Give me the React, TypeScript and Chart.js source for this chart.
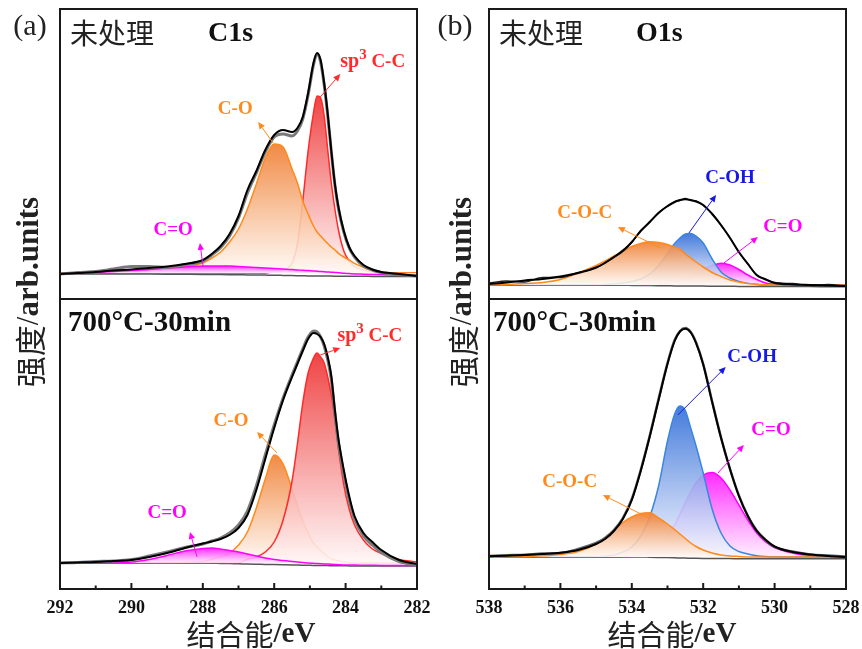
import React, { useEffect, useRef } from "react";
import { Chart, registerables } from "chart.js";

Chart.register(...registerables);

const W = 862;
const H = 649;
const SERIF = '"Liberation Serif", "Times New Roman", Times, serif';
const CJK = '"Noto Sans CJK SC", "Noto Sans CJK JP", sans-serif';

// ---------- C1s (binding energy grid, eV) ----------
const c1sEnergy = [292, 291.5, 291, 290.5, 290, 289.5, 289, 288.5, 288, 287.75, 287.5, 287.25, 287, 286.75, 286.5, 286.25, 286, 285.75, 285.5, 285.35, 285.2, 285.05, 284.9, 284.8, 284.7, 284.6, 284.5, 284.4, 284.3, 284.2, 284.05, 283.9, 283.75, 283.5, 283.25, 283, 282.5, 282];
const c1sTicks = [292, 290, 288, 286, 284, 282];

// untreated C1s
const untreatedC1sEnvelope = [-1, 0, 1, 2.5, 3.5, 5, 6.5, 9, 13, 19, 27, 39, 57, 83, 102, 123, 138, 143, 141, 145, 156, 180, 210, 220, 213, 190, 159, 122, 89, 66, 42, 26, 17, 8, 3.5, 1, -1, -3];
const untreatedC1sRaw = [-1, 0.5, 1.5, 4, 6.5, 6.5, 5.5, 8.5, 12, 18, 25.5, 37, 55, 80, 100, 121, 136, 139, 137, 142, 154, 178, 208, 219, 211, 188, 157, 121, 88, 64, 41, 25, 16, 7, 3, 0.5, -1.5, -3];
const untreatedC1sCC = [0, 0, 0, 0, 0, 0, 0, 0, 0, 0, 0, 0, 0, 0, 0, 0, 1.5, 3, 10, 29, 72, 122, 160, 177, 175, 157, 123, 90, 64, 43, 22, 12, 6.5, 3, 1, 0, 0, 0];
const untreatedC1sCO = [0, 0, 0.5, 1, 1.5, 2.5, 4, 6.5, 10, 15, 21, 31, 44, 64, 89, 115, 129, 126, 104, 90, 72, 59, 47, 41, 37, 33, 29.5, 26, 23, 19.7, 16, 13, 9.7, 5.7, 2.5, 1, 0, 0];
const untreatedC1sCdO = [-1, -0.3, 0.5, 1.5, 2.5, 3.5, 5, 6, 7, 7, 7, 7, 6.5, 6, 5.5, 5, 4.5, 4, 3.5, 3, 2.8, 2.5, 2, 1.8, 1.5, 1.2, 1, 0.8, 0.5, 0.3, -0.3, -0.6, -0.9, -1.2, -1.5, -1.8, -2.2, -2.6];
const untreatedC1sBg = [-1, -1, -1, -1, -1, -1.1, -1.2, -1.3, -1.4, -1.5, -1.6, -1.7, -1.8, -1.9, -2, -2.1, -2.2, -2.4, -2.6, -2.7, -2.8, -2.9, -3, -3, -3, -3.1, -3.1, -3.1, -3.2, -3.2, -3.2, -3.3, -3.3, -3.3, -3.4, -3.4, -3.5, -3.5];

// 700°C-30min C1s
const annealedC1sEnvelope = [0, 0.5, 1, 2, 3, 6, 10, 15, 19.5, 21.5, 24, 28, 35, 48, 73, 104, 135, 163, 186, 199, 212, 224, 230, 229, 226, 219, 206, 187, 153, 124, 93, 67, 47, 30, 21, 13, 3, -1];
const annealedC1sRaw = [0, 0.5, 1.5, 2, 3.5, 7, 11, 15.5, 19, 22, 25, 30, 38, 52, 77, 108, 138, 165, 188, 201, 214, 226, 232, 231, 226, 217, 203, 183, 150, 120, 89, 63, 44, 27, 18, 10.5, 1.5, -2];
const annealedC1sCC = [0, 0, 0, 0, 0, 0, 0, 0, 0, 0, 0, 0, 0, 3.7, 6, 11, 21, 43, 82, 119, 160, 190, 205, 210, 206, 200, 186, 168, 144, 114, 78, 54, 38, 23, 14, 9.5, 3.5, 1];
const annealedC1sCO = [0, 0, 0, 0, 0, 0, 0, 0.5, 1.5, 3.5, 6.5, 10, 18, 31, 55, 84, 108, 99, 74, 57, 42, 30, 20, 16, 12.5, 9.5, 6.3, 4.5, 3, 2, 1.2, 0.5, 0, 0, 0, 0, 0, 0];
const annealedC1sCdO = [0, 0, 0, 0.5, 1, 3.5, 7.5, 12, 14.5, 15, 14, 12.5, 11, 9, 7, 5, 3.5, 2.5, 1.5, 1, 0.5, 0, -0.3, -0.5, -0.7, -0.9, -1.1, -1.3, -1.5, -1.7, -1.9, -2, -2.1, -2.2, -2.3, -2.4, -2.5, -2.6];
const annealedC1sBg = [0, 0, 0, 0, 0, 0, 0, 0, 0, -0.2, -0.4, -0.6, -0.8, -1, -1.2, -1.4, -1.6, -1.8, -2, -2.1, -2.2, -2.3, -2.4, -2.5, -2.5, -2.6, -2.6, -2.7, -2.7, -2.8, -2.8, -2.9, -2.9, -3, -3, -3, -3, -3];

// ---------- O1s ----------
const o1sEnergy = [538, 537.5, 537, 536.5, 536, 535.5, 535, 534.75, 534.5, 534.25, 534, 533.75, 533.5, 533.25, 533, 532.8, 532.65, 532.5, 532.35, 532.2, 532, 531.75, 531.5, 531.25, 531, 530.75, 530.5, 530.25, 530, 529.5, 529, 528.5, 528];
const o1sTicks = [538, 536, 534, 532, 530, 528];

const untreatedO1sEnvelope = [1, 2.5, 4.5, 6, 8.5, 12, 17.5, 22, 28, 34, 43, 54, 63, 72, 79, 83, 85, 85.7, 85, 83.5, 80, 71, 60, 47, 33, 21, 10, 5.5, 2, 0.5, 0, -0.5, -1];
const untreatedO1sRaw = [2, 4, 3, 7.5, 7.5, 12.5, 17, 22.5, 27.5, 35, 42.5, 54.5, 62.5, 72.5, 78.5, 83.5, 84.5, 86.5, 84.5, 84, 79.5, 71.5, 59.5, 47.5, 32.5, 21.5, 9.5, 6, 2.5, 1.5, -0.5, 0.5, -1.5];
const untreatedO1sCOC = [0, 0.5, 1.5, 2.5, 5.5, 12, 19.5, 24, 29, 34, 38.5, 41.5, 43.3, 42.5, 40.5, 38, 35.5, 31, 27, 23, 18, 12.5, 8.5, 5, 3, 1.5, 0.7, 0.3, 0, 0, 0, 0, 0];
const untreatedO1sCOH = [0, 0, 0, 0, 0, 0, 0, 0.5, 1, 2, 3.5, 6, 11, 19.5, 31.7, 41.5, 47, 51, 51.5, 49, 42, 26, 13, 7, 3.5, 1.5, 0.5, 0, 0, 0, 0, 0, 0];
const untreatedO1sCdO = [0, 0, 0, 0, 0, 0, 0, 0, 0, 0, 0, 0, 0, 1, 2, 3.3, 4.7, 6.5, 9.5, 12.5, 16, 19.5, 21.7, 20, 15.5, 10, 5.5, 2, 0.7, 0, 0, 0, 0];
const untreatedO1sBg = [0, 0, 0, 0, 0, -0.1, -0.2, -0.2, -0.3, -0.3, -0.4, -0.5, -0.6, -0.7, -0.8, -0.9, -0.9, -1, -1, -1.1, -1.1, -1.2, -1.3, -1.3, -1.4, -1.4, -1.5, -1.5, -1.5, -1.6, -1.6, -1.7, -1.7];

const annealedO1sEnvelope = [0.7, 1.3, 2, 3, 4.3, 7, 13, 18, 26, 38, 57, 86, 120, 157, 193, 216, 225.5, 228.3, 224.5, 214, 192.5, 155, 119, 88, 61, 41, 26, 17, 10.5, 5, 2.5, 1, 0];
const annealedO1sRaw = [1, 1.8, 2.3, 3.5, 4, 8, 14, 19, 27, 39, 58, 87, 121, 158, 194, 217, 226, 229, 225, 214.5, 193, 155.5, 119.5, 88, 61.5, 41, 26.5, 17, 10, 5.5, 2.5, 1.5, 0.5];
const annealedO1sCOC = [0, 0.2, 0.5, 1.2, 2.5, 5.5, 13, 19.5, 27, 34.5, 40, 43.5, 44.3, 39, 33, 27.5, 23, 18.5, 14, 10.5, 7, 4, 2, 1, 0.5, 0, 0, 0, 0, 0, 0, 0, 0];
const annealedO1sCOH = [0, 0, 0, 0, 0, 0, 0.3, 0.8, 2, 5, 10, 21, 40, 71, 116, 143, 151, 146.5, 129, 111, 84, 48, 24, 11, 5.5, 3, 1.3, 0.5, 0.2, 0, 0, 0, 0];
const annealedO1sCdO = [0, 0, 0, 0, 0, 0, 0, 0, 0, 0.3, 0.7, 1.8, 5, 12, 22, 32, 43, 54.5, 65, 74, 82, 84.5, 79, 67, 52, 37, 24, 15, 9.5, 4, 1.4, 0.5, 0];
const annealedO1sBg = [0, 0, 0, 0, 0, 0, 0, 0, 0, 0, 0, 0, -0.2, -0.4, -0.6, -0.8, -1, -1.1, -1.2, -1.3, -1.4, -1.5, -1.6, -1.6, -1.7, -1.7, -1.7, -1.8, -1.8, -1.8, -1.8, -1.8, -1.8];

// ---------- colours ----------
const RED = "#ff2a2a";
const ORANGE = "#ff8a1c";
const MAGENTA = "#ff00ff";
const BLUE_LINE = "#3a86e0";
const BLUE_TEXT = "#1717e8";
const RED_FILL: [string, string] = ["rgba(238,52,52,0.92)", "rgba(255,246,246,0.88)"];
const ORANGE_FILL: [string, string] = ["rgba(240,128,52,0.92)", "rgba(255,249,244,0.88)"];
const MAGENTA_FILL: [string, string] = ["rgba(255,30,255,0.95)", "rgba(255,235,255,0.85)"];
const BLUE_FILL: [string, string] = ["rgba(52,112,216,0.92)", "rgba(246,246,255,0.88)"];

interface SeriesCfg { data: number[]; color: string; width: number; fill?: [string, string]; }
interface LabelCfg { e: number; h: number; text: string; color: string; sup?: boolean; }
interface ArrowCfg { e1: number; h1: number; e2: number; h2: number; color: string; }
interface Run { text: string; font: string; dy?: number; }
interface PanelCfg {
  energy: number[];
  xMin: number; xMax: number; yMin: number; yMax: number;
  area: [number, number, number, number];
  bottomAxis: boolean;
  ticks: number[];
  series: SeriesCfg[];
  labels: LabelCfg[];
  arrows: ArrowCfg[];
  decorate: (ctx: CanvasRenderingContext2D, a: { left: number; top: number; right: number; bottom: number }) => void;
}

function drawRuns(ctx: CanvasRenderingContext2D, runs: Run[], x: number, y: number, align: "left" | "center", color: string, baseline: CanvasTextBaseline = "middle") {
  ctx.save();
  ctx.fillStyle = color;
  ctx.textBaseline = baseline;
  ctx.textAlign = "left";
  let total = 0;
  runs.forEach((r) => { ctx.font = r.font; total += ctx.measureText(r.text).width; });
  let cx = align === "center" ? x - total / 2 : x;
  runs.forEach((r) => {
    ctx.font = r.font;
    ctx.fillText(r.text, cx, y + (r.dy || 0));
    cx += ctx.measureText(r.text).width;
  });
  ctx.restore();
}

function drawArrow(ctx: CanvasRenderingContext2D, x1: number, y1: number, x2: number, y2: number, color: string) {
  ctx.save();
  ctx.strokeStyle = color;
  ctx.fillStyle = color;
  ctx.lineWidth = 1;
  const ang = Math.atan2(y2 - y1, x2 - x1);
  const L = 7, Wd = 3.2;
  const bx = x2 - Math.cos(ang) * L, by = y2 - Math.sin(ang) * L;
  ctx.beginPath();
  ctx.moveTo(x1, y1);
  ctx.lineTo(bx, by);
  ctx.stroke();
  ctx.beginPath();
  ctx.moveTo(x2, y2);
  ctx.lineTo(bx - Math.sin(ang) * Wd, by + Math.cos(ang) * Wd);
  ctx.lineTo(bx + Math.sin(ang) * Wd, by - Math.cos(ang) * Wd);
  ctx.closePath();
  ctx.fill();
  ctx.restore();
}

const LBL = `bold 19px ${SERIF}`;
const yTitle: Run[] = [
  { text: "强度", font: `31px ${CJK}` },
  { text: "/", font: `31px ${SERIF}` },
  { text: "arb.units", font: `bold 31px ${SERIF}` },
];
const xTitle: Run[] = [
  { text: "结合能", font: `29px ${CJK}` },
  { text: "/eV", font: `bold 29px ${SERIF}` },
];
function drawYTitle(ctx: CanvasRenderingContext2D, cx: number, cy: number) {
  ctx.save();
  ctx.translate(cx, cy);
  ctx.rotate(-Math.PI / 2);
  drawRuns(ctx, yTitle, 0, 0, "center", "#222");
  ctx.restore();
}

const PANELS: PanelCfg[] = [
  {
    energy: c1sEnergy, xMin: 282, xMax: 292, yMin: -26, yMax: 264,
    area: [60, 9, 417, 299], bottomAxis: false, ticks: c1sTicks,
    series: [
      { data: untreatedC1sEnvelope, color: "#000", width: 2 },
      { data: untreatedC1sRaw, color: "#7a7a7a", width: 3 },
      { data: untreatedC1sCdO, color: MAGENTA, width: 1.5, fill: MAGENTA_FILL },
      { data: untreatedC1sCO, color: ORANGE, width: 1.5, fill: ORANGE_FILL },
      { data: untreatedC1sCC, color: RED, width: 1.5, fill: RED_FILL },
      { data: untreatedC1sBg, color: "#555", width: 1.5 },
    ],
    labels: [
      { e: 287.09, h: 164, text: "C-O", color: ORANGE },
      { e: 288.83, h: 43, text: "C=O", color: MAGENTA },
      { e: 284.15, h: 206, text: "C-C", color: RED, sup: true },
    ],
    arrows: [
      { e1: 286.03, h1: 130, e2: 286.45, h2: 151, color: ORANGE },
      { e1: 284.71, h1: 176, e2: 284.15, h2: 199, color: RED },
      { e1: 287.99, h1: 6, e2: 288.08, h2: 30, color: MAGENTA },
    ],
    decorate: (ctx, a) => {
      drawRuns(ctx, [{ text: "未处理", font: `28px ${CJK}` }], a.left + 10, a.top + 24, "left", "#222");
      drawRuns(ctx, [{ text: "C1s", font: `bold 28px ${SERIF}` }], a.left + 148, a.top + 25, "left", "#111");
      drawRuns(ctx, [{ text: "(a)", font: `30px ${SERIF}` }], 30, 27, "center", "#222");
    },
  },
  {
    energy: c1sEnergy, xMin: 282, xMax: 292, yMin: -26, yMax: 264,
    area: [60, 299, 417, 589], bottomAxis: true, ticks: c1sTicks,
    series: [
      { data: annealedC1sEnvelope, color: "#000", width: 2 },
      { data: annealedC1sRaw, color: "#7a7a7a", width: 3 },
      { data: annealedC1sCdO, color: MAGENTA, width: 1.5, fill: MAGENTA_FILL },
      { data: annealedC1sCC, color: RED, width: 1.5, fill: RED_FILL },
      { data: annealedC1sCO, color: ORANGE, width: 1.5, fill: ORANGE_FILL },
      { data: annealedC1sBg, color: "#555", width: 1.5 },
    ],
    labels: [
      { e: 287.21, h: 142, text: "C-O", color: ORANGE },
      { e: 289.0, h: 50, text: "C=O", color: MAGENTA },
      { e: 284.23, h: 222, text: "C-C", color: RED, sup: true },
    ],
    arrows: [
      { e1: 285.92, h1: 110, e2: 286.48, h2: 131, color: ORANGE },
      { e1: 284.71, h1: 208, e2: 284.15, h2: 215, color: RED },
      { e1: 288.16, h1: 6, e2: 288.36, h2: 31, color: MAGENTA },
    ],
    decorate: (ctx, a) => {
      drawRuns(ctx, [{ text: "700°C-30min", font: `bold 29px ${SERIF}` }], a.left + 8, a.top + 25, "left", "#111");
      drawYTitle(ctx, 30, 292);
      drawRuns(ctx, xTitle, 251, 635, "center", "#222");
    },
  },
  {
    energy: o1sEnergy, xMin: 528, xMax: 538, yMin: -14, yMax: 276,
    area: [489, 9, 846, 299], bottomAxis: false, ticks: o1sTicks,
    series: [
      { data: untreatedO1sEnvelope, color: "#000", width: 2 },
      { data: untreatedO1sRaw, color: "#222", width: 1.3 },
      { data: untreatedO1sCOC, color: ORANGE, width: 1.5, fill: ORANGE_FILL },
      { data: untreatedO1sCOH, color: BLUE_LINE, width: 1.5, fill: BLUE_FILL },
      { data: untreatedO1sCdO, color: MAGENTA, width: 1.5, fill: MAGENTA_FILL },
      { data: untreatedO1sBg, color: "#555", width: 1.5 },
    ],
    labels: [
      { e: 531.25, h: 107, text: "C-OH", color: BLUE_TEXT },
      { e: 535.32, h: 72, text: "C-O-C", color: ORANGE },
      { e: 529.77, h: 58, text: "C=O", color: MAGENTA },
    ],
    arrows: [
      { e1: 532.4, h1: 52, e2: 531.64, h2: 90, color: BLUE_TEXT },
      { e1: 533.19, h1: 37, e2: 534.39, h2: 58, color: ORANGE },
      { e1: 531.42, h1: 22, e2: 530.47, h2: 48, color: MAGENTA },
    ],
    decorate: (ctx, a) => {
      drawRuns(ctx, [{ text: "未处理", font: `28px ${CJK}` }], a.left + 10, a.top + 24, "left", "#222");
      drawRuns(ctx, [{ text: "O1s", font: `bold 28px ${SERIF}` }], a.left + 147, a.top + 25, "left", "#111");
      drawRuns(ctx, [{ text: "(b)", font: `30px ${SERIF}` }], 455, 27, "center", "#222");
    },
  },
  {
    energy: o1sEnergy, xMin: 528, xMax: 538, yMin: -32, yMax: 258,
    area: [489, 299, 846, 589], bottomAxis: true, ticks: o1sTicks,
    series: [
      { data: annealedO1sEnvelope, color: "#000", width: 2 },
      { data: annealedO1sRaw, color: "#666", width: 2.5 },
      { data: annealedO1sCOC, color: ORANGE, width: 1.5, fill: ORANGE_FILL },
      { data: annealedO1sCOH, color: BLUE_LINE, width: 1.5, fill: BLUE_FILL },
      { data: annealedO1sCdO, color: MAGENTA, width: 1.5, fill: MAGENTA_FILL },
      { data: annealedO1sBg, color: "#555", width: 1.5 },
    ],
    labels: [
      { e: 530.63, h: 200, text: "C-OH", color: BLUE_TEXT },
      { e: 530.1, h: 127, text: "C=O", color: MAGENTA },
      { e: 535.74, h: 75, text: "C-O-C", color: ORANGE },
    ],
    arrows: [
      { e1: 532.71, h1: 142, e2: 531.37, h2: 190, color: BLUE_TEXT },
      { e1: 531.59, h1: 84, e2: 530.86, h2: 112, color: MAGENTA },
      { e1: 533.52, h1: 39, e2: 534.81, h2: 62, color: ORANGE },
    ],
    decorate: (ctx, a) => {
      drawRuns(ctx, [{ text: "700°C-30min", font: `bold 29px ${SERIF}` }], a.left + 4, a.top + 25, "left", "#111");
      drawYTitle(ctx, 463, 292);
      drawRuns(ctx, xTitle, 672, 635, "center", "#222");
    },
  },
];

const AXIS_H = 40;

function Panel({ cfg }: { cfg: PanelCfg }) {
  const ref = useRef<HTMLCanvasElement>(null);
  useEffect(() => {
    const canvas = ref.current;
    if (!canvas) return;
    const deco = {
      id: "deco",
      afterDraw(chart: any) {
        const ctx: CanvasRenderingContext2D = chart.ctx;
        const a = chart.chartArea;
        const xs = chart.scales.x;
        const ys = chart.scales.y;
        cfg.arrows.forEach((ar) => {
          drawArrow(ctx, xs.getPixelForValue(ar.e1), ys.getPixelForValue(ar.h1), xs.getPixelForValue(ar.e2), ys.getPixelForValue(ar.h2), ar.color);
        });
        cfg.labels.forEach((l) => {
          const px = xs.getPixelForValue(l.e);
          const py = ys.getPixelForValue(l.h);
          if (l.sup) {
            drawRuns(ctx, [
              { text: "sp", font: `bold 20px ${SERIF}` },
              { text: "3", font: `bold 15px ${SERIF}`, dy: -8 },
              { text: " " + l.text, font: LBL },
            ], px, py, "left", l.color, "alphabetic");
          } else {
            drawRuns(ctx, [{ text: l.text, font: LBL }], px, py, "center", l.color);
          }
        });
        ctx.save();
        ctx.strokeStyle = "#1a1a1a";
        ctx.lineWidth = 2;
        ctx.strokeRect(a.left, a.top, a.right - a.left, a.bottom - a.top);
        if (cfg.bottomAxis) {
          ctx.beginPath();
          cfg.ticks.forEach((v, i) => {
            const x = xs.getPixelForValue(v);
            ctx.moveTo(x, a.bottom);
            ctx.lineTo(x, a.bottom - 6);
            if (i < cfg.ticks.length - 1) {
              const xm = xs.getPixelForValue((v + cfg.ticks[i + 1]) / 2);
              ctx.moveTo(xm, a.bottom);
              ctx.lineTo(xm, a.bottom - 3.5);
            }
          });
          ctx.stroke();
        }
        ctx.restore();
        cfg.decorate(ctx, a);
      },
    };

    const datasets = cfg.series.map((s) => ({
      data: s.data.map((v, i) => ({ x: cfg.energy[i], y: v })),
      borderColor: s.color,
      borderWidth: s.width,
      pointRadius: 0,
      cubicInterpolationMode: "monotone" as const,
      fill: s.fill ? "origin" : false,
      backgroundColor: s.fill
        ? (c: any) => {
            const chart = c.chart;
            const area = chart.chartArea;
            if (!area) return s.fill![0];
            const ys = chart.scales.y;
            const peak = Math.max(...s.data);
            const top = ys.getPixelForValue(peak);
            const bot = Math.max(ys.getPixelForValue(0), top + 1);
            const g = chart.ctx.createLinearGradient(0, top, 0, bot);
            g.addColorStop(0, s.fill![0]);
            g.addColorStop(1, s.fill![1]);
            return g;
          }
        : "transparent",
    }));

    const [l, t, r, b] = cfg.area;
    const chart = new Chart(canvas, {
      type: "line",
      data: { datasets: datasets as any },
      options: {
        responsive: false,
        animation: false,
        devicePixelRatio: 1,
        layout: {
          padding: { left: l, top: t, right: W - r, bottom: cfg.bottomAxis ? H - b - AXIS_H : H - b },
        },
        plugins: { legend: { display: false }, tooltip: { enabled: false } },
        scales: {
          x: {
            type: "linear",
            min: cfg.xMin,
            max: cfg.xMax,
            reverse: true,
            display: cfg.bottomAxis,
            grid: { display: false, drawTicks: false },
            border: { display: false },
            ticks: {
              color: "#111",
              padding: 9,
              autoSkip: false,
              maxRotation: 0,
              font: { family: SERIF, size: 18, weight: "bold" },
            },
            afterBuildTicks: (s: any) => { s.ticks = cfg.ticks.map((v) => ({ value: v })); },
            afterFit: (s: any) => {
              s.height = cfg.bottomAxis ? AXIS_H : 0;
              s.paddingLeft = 0;
              s.paddingRight = 0;
            },
          },
          y: { type: "linear", min: cfg.yMin, max: cfg.yMax, display: false },
        },
      } as any,
      plugins: [deco],
    });
    return () => chart.destroy();
  }, [cfg]);
  return (
    <canvas
      ref={ref}
      width={W}
      height={H}
      style={{ position: "absolute", left: 0, top: 0, width: W, height: H }}
    />
  );
}

export default function App() {
  return (
    <div style={{ position: "absolute", left: 0, top: 0, width: W, height: H, background: "#fff", overflow: "hidden" }}>
      {PANELS.map((p, i) => (
        <Panel key={i} cfg={p} />
      ))}
    </div>
  );
}
